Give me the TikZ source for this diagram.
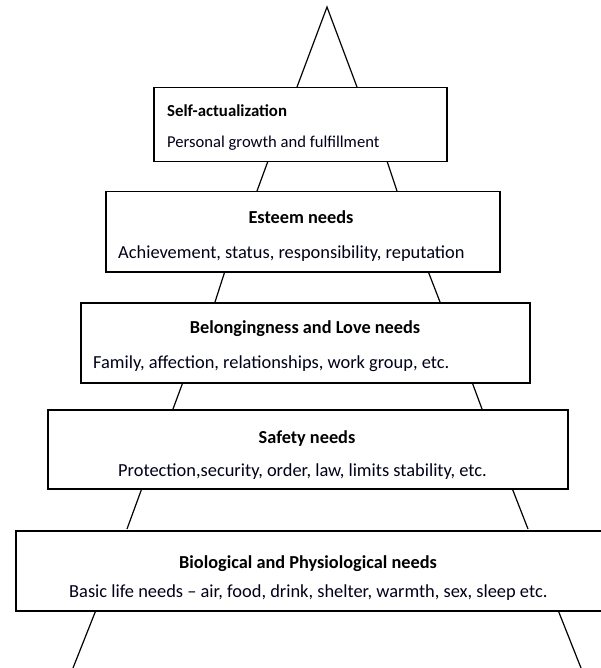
\documentclass[tikz,border=0pt]{standalone}
\usepackage{fontspec}
\setmainfont{Carlito}
\begin{document}
\begin{tikzpicture}[x=1pt,y=-1pt,
  box/.style={draw=black, line width=1.5pt, fill=white, inner sep=0pt, anchor=north west},
  side/.style={draw=black, line width=1.2pt},
  ttl/.style={inner sep=0pt, anchor=base, font=\fontsize{18.3}{22}\selectfont\bfseries},
  txt/.style={inner sep=0pt, anchor=base west, font=\fontsize{18.4}{22}\selectfont, text=black!90!blue},
  smallttl/.style={font=\fontsize{16.8}{20}\selectfont\bfseries},
  small/.style={font=\fontsize{16.6}{20}\selectfont}]
\clip (0,0) rectangle (601,668);
% pyramid sides
\coordinate (apex) at (327,7);
\draw[side] (297,87) -- (apex) -- (357,87);
\draw[side] (268,161) -- (257,191);
\draw[side] (387,161) -- (397,191);
\draw[side] (225,271) -- (215,302);
\draw[side] (428,271) -- (440,302);
\draw[side] (183,382) -- (173,409);
\draw[side] (472,382) -- (482,409);
\draw[side] (142,488) -- (127,529);
\draw[side] (512,488) -- (528,529);
\draw[side] (96,610) -- (73,668);
\draw[side] (558,610) -- (581,668);
% boxes
\node[box, minimum width=293pt, minimum height=74pt] (b1) at (153,87) {};
\node[box, minimum width=394pt, minimum height=80pt] (b2) at (105,191) {};
\node[box, minimum width=449pt, minimum height=80pt] (b3) at (80,302) {};
\node[box, minimum width=520pt, minimum height=79pt] (b4) at (47,409) {};
\node[box, minimum width=600pt, minimum height=80pt] (b5) at (15,530) {};
% texts
\node[ttl, anchor=base west, smallttl] (t1) at (167,117) {Self-actualization};
\node[txt, small] (s1) at (167,148) {Personal growth and fulfillment};
\node[ttl] (t2) at (301,223) {Esteem needs};
\node[txt] (s2) at (118,258) {Achievement, status, responsibility, reputation};
\node[ttl] (t3) at (305,333) {Belongingness and Love needs};
\node[txt] (s3) at (93,368) {Family, affection, relationships, work group, etc.};
\node[ttl] (t4) at (307,443) {Safety needs};
\node[txt] (s4) at (118,476) {Protection,security, order, law, limits stability, etc.};
\node[ttl] (t5) at (308,568) {Biological and Physiological needs};
\node[txt] (s5) at (69,597) {Basic life needs -- air, food, drink, shelter, warmth, sex, sleep etc.};
\end{tikzpicture}
\end{document}
